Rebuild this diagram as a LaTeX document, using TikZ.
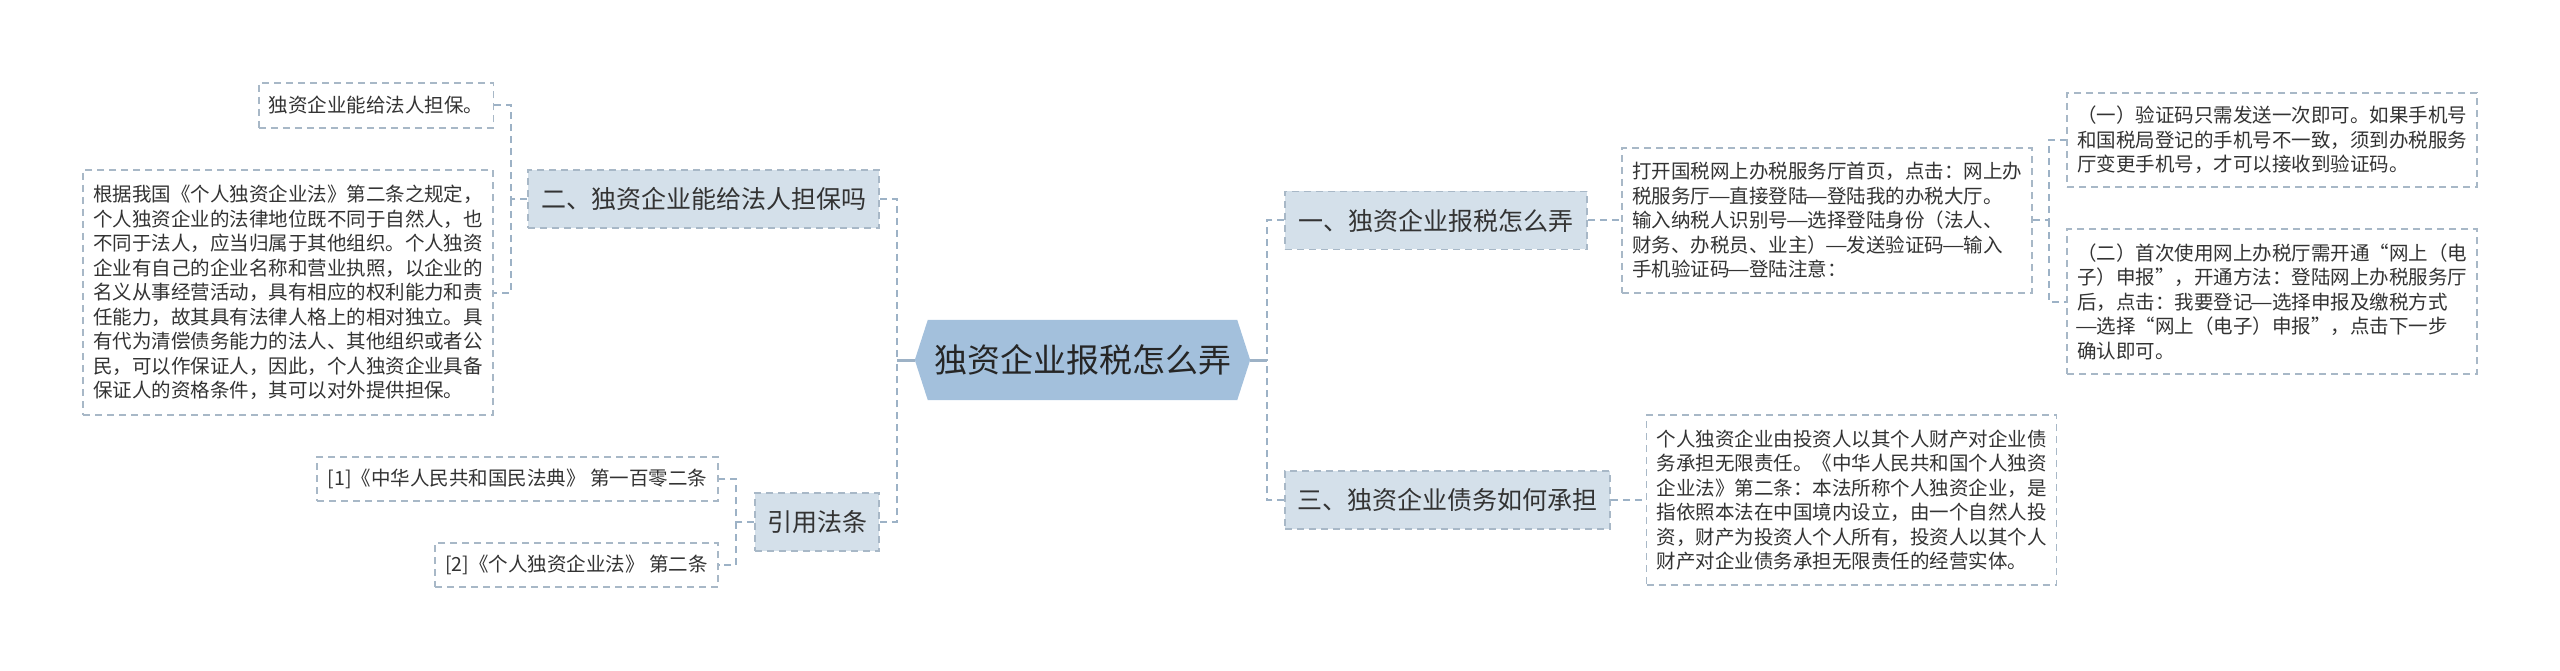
\documentclass[tikz,border=0pt]{standalone}
\usepackage{fontspec}
\usepackage{graphicx}
\setmainfont{Noto Sans CJK SC}
\usetikzlibrary{backgrounds}
\definecolor{nodefill}{HTML}{D4E0EA}
\definecolor{rootfill}{HTML}{A3C0DC}
\definecolor{connc}{HTML}{9DB2C6}
\definecolor{boxline}{HTML}{A8B8C7}
\definecolor{txt}{HTML}{333333}
\newcommand\cjkdash{\makebox[1em][c]{\scalebox{1.3}[1]{—}}}
\tikzset{
  topic/.style={draw=boxline, line width=1.5pt, dash pattern=on 7pt off 5pt, fill=nodefill,
    text=txt, font=\fontsize{25}{30}\selectfont, inner sep=0pt, minimum height=58pt},
  leaf/.style={draw=boxline, line width=1.5pt, dash pattern=on 7pt off 5pt, fill=white,
    text=txt, font=\fontsize{19.5}{24.5}\selectfont, align=left, inner xsep=10pt, inner ysep=0pt},
  roottext/.style={text=black!85, font=\fontsize{33}{38}\selectfont, inner sep=0pt,
    minimum width=335pt, minimum height=80pt},
  conn/.style={draw=connc, line width=2pt, dash pattern=on 7pt off 5pt},
  stub/.style={draw=connc, line width=3pt}
}
\begin{document}
\begin{tikzpicture}[x=1pt,y=-1pt]
\useasboundingbox (0,0) rectangle (2560,671);
% root
\node[roottext] (root) at (1082.5,360) {独资企业报税怎么弄};
\begin{scope}[on background layer]
\fill[rootfill] ([xshift=13pt]root.north west) -- ([xshift=-13pt]root.north east) -- (root.east)
  -- ([xshift=-13pt]root.south east) -- ([xshift=13pt]root.south west) -- (root.west) -- cycle;
\end{scope}
% left topics
\node[topic, minimum width=351pt] (n2) at (703.5,199) {二、独资企业能给法人担保吗};
\node[topic, minimum width=124pt] (cite) at (817,522) {引用法条};
% right topics
\node[topic, minimum width=302pt] (n1) at (1436,220.5) {一、独资企业报税怎么弄};
\node[topic, minimum width=325pt] (n3) at (1447.5,500) {三、独资企业债务如何承担};
% leaves left
\node[leaf, minimum width=234pt, minimum height=45pt] (boxA) at (376,105.5) {独资企业能给法人担保。};
\node[leaf, minimum width=410pt, minimum height=245pt] (boxB) at (288,292.5) {根据我国《个人独资企业法》第二条之规定，\\
个人独资企业的法律地位既不同于自然人，也\\
不同于法人，应当归属于其他组织。个人独资\\
企业有自己的企业名称和营业执照，以企业的\\
名义从事经营活动，具有相应的权利能力和责\\
任能力，故其具有法律人格上的相对独立。具\\
有代为清偿债务能力的法人、其他组织或者公\\
民，可以作保证人，因此，个人独资企业具备\\
保证人的资格条件，其可以对外提供担保。};
\node[leaf, minimum width=401pt, minimum height=44pt] (c1) at (517.5,479) {[1]《中华人民共和国民法典》 第一百零二条};
\node[leaf, minimum width=283pt, minimum height=44pt] (c2) at (576.5,565) {[2]《个人独资企业法》 第二条};
% leaves right
\node[leaf, minimum width=410pt, minimum height=145pt] (t1) at (1827,220.5) {打开国税网上办税服务厅首页，点击：网上办\\
税服务厅\cjkdash 直接登陆\cjkdash 登陆我的办税大厅。\\
输入纳税人识别号\cjkdash 选择登陆身份（法人、\\
财务、办税员、业主）\cjkdash 发送验证码\cjkdash 输入\\
手机验证码\cjkdash 登陆注意：};
\node[leaf, minimum width=410pt, minimum height=94pt] (t1a) at (2272,140) {（一）验证码只需发送一次即可。如果手机号\\
和国税局登记的手机号不一致，须到办税服务\\
厅变更手机号，才可以接收到验证码。};
\node[leaf, minimum width=410pt, minimum height=145pt] (t1b) at (2272,301.5) {（二）首次使用网上办税厅需开通“网上（电\\
子）申报”，开通方法：登陆网上办税服务厅\\
后，点击：我要登记\cjkdash 选择申报及缴税方式\\
\cjkdash 选择“网上（电子）申报”，点击下一步\\
确认即可。};
\node[leaf, minimum width=409pt, minimum height=170pt] (t3) at (1851.5,500) {个人独资企业由投资人以其个人财产对企业债\\
务承担无限责任。《中华人民共和国个人独资\\
企业法》第二条：本法所称个人独资企业，是\\
指依照本法在中国境内设立，由一个自然人投\\
资，财产为投资人个人所有，投资人以其个人\\
财产对企业债务承担无限责任的经营实体。};
% junctions
\coordinate (jl) at (897,360);
\coordinate (jr) at (1267,360);
\coordinate (j2) at (511,199);
\coordinate (jc) at (736,522);
\coordinate (jt) at (2049,220.5);
% connectors
\draw[stub] (root.west) -- (jl);
\draw[stub] (root.east) -- (jr);
\draw[conn] (n2.east) -| (jl);
\draw[conn] (cite.east) -| (jl);
\draw[conn] (n1.west) -| (jr);
\draw[conn] (n3.west) -| (jr);
\draw[conn] (n2.west) -- (j2) |- (boxA.east);
\draw[conn] (j2) |- (boxB.east);
\draw[conn] (cite.west) -- (jc) |- (c1.east);
\draw[conn] (jc) |- (c2.east);
\draw[conn] (n1.east) -- (t1.west);
\draw[conn] (n3.east) -- (t3.west);
\draw[conn] (t1.east) -- (jt) |- (t1a.west);
\draw[conn] (jt) |- (t1b.west);
\end{tikzpicture}
\end{document}
